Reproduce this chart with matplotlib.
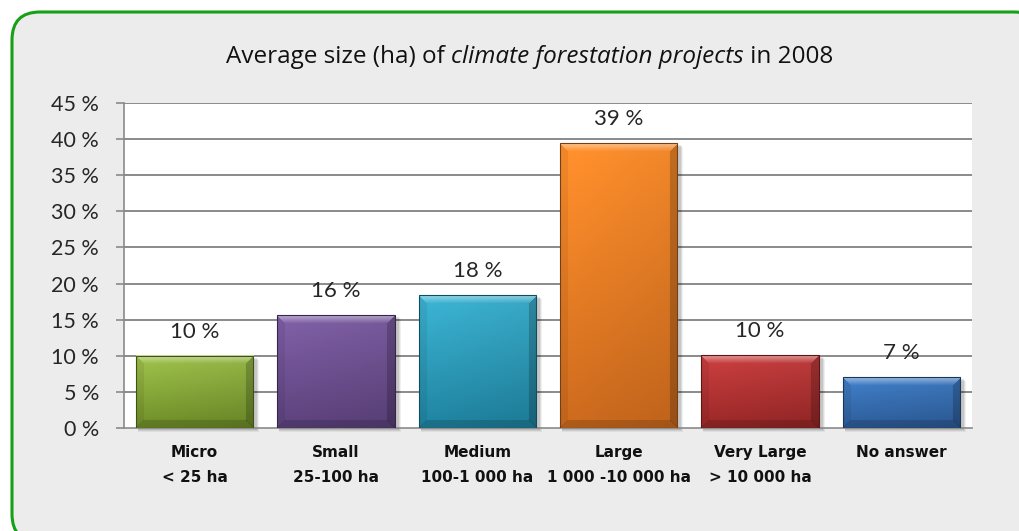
import numpy as np
import matplotlib.pyplot as plt
from matplotlib.patches import FancyBboxPatch, Rectangle
from matplotlib.colors import to_rgb

categories = [
    "Micro\n< 25 ha",
    "Small\n25-100 ha",
    "Medium\n100-1 000 ha",
    "Large\n1 000 -10 000 ha",
    "Very Large\n> 10 000 ha",
    "No answer",
]
shares = [10.0, 15.6, 18.4, 39.4, 10.1, 7.0]
y_ticks = [0, 5, 10, 15, 20, 25, 30, 35, 40, 45]
tick_labels = [f"{t} %" for t in y_ticks]

# (top colour, bottom colour) for each bar
bar_colors = [
    ("#9bbd4a", "#6b8a27"),
    ("#7d5ea3", "#5a4079"),
    ("#3bb0cf", "#1e7f9b"),
    ("#fb8d2b", "#c6671d"),
    ("#c63e3e", "#962626"),
    ("#3f7cc4", "#2c5a95"),
]

title_parts = [
    ("Average size (ha) of ", "normal"),
    ("climate forestation projects", "italic"),
    (" in 2008", "normal"),
]

W, H = 1020, 531
fig = plt.figure(figsize=(W / 100, H / 100), dpi=100)
fig.patch.set_facecolor("white")

# rounded frame behind everything
bg = fig.add_axes([0, 0, 1, 1], zorder=0)
bg.set_xlim(0, W)
bg.set_ylim(H, 0)
bg.axis("off")
bg.add_patch(FancyBboxPatch((12, 12), 1030, 530,
                            boxstyle="round,pad=0,rounding_size=28",
                            facecolor="#ececec", edgecolor="#17a017", linewidth=2.2))

ax = fig.add_axes([124 / W, 1 - 428 / H, 848 / W, 325 / H], zorder=1)
ax.set_facecolor("white")
ax.set_xlim(-0.5, len(categories) - 0.5)
ax.set_ylim(0, 45)

for y in y_ticks[1:]:
    ax.axhline(y, color="#8a8a8a", linewidth=1.4, zorder=1)
for side in ["top", "right"]:
    ax.spines[side].set_visible(False)
for side in ["left", "bottom"]:
    ax.spines[side].set_color("#8a8a8a")
    ax.spines[side].set_linewidth(1.2)

ax.set_yticks(y_ticks)
ax.set_yticklabels(tick_labels, fontfamily="Lato", fontsize=15.5, color="#262626")
ax.tick_params(axis="y", length=6, width=1.2, color="#8a8a8a", pad=12)

ax.set_xticks(range(len(categories)))
ax.set_xticklabels(categories, fontfamily="DejaVu Sans", fontweight="bold",
                   fontsize=11, color="#111111", linespacing=1.85)
ax.tick_params(axis="x", length=0, pad=12)

px_x = 848 / len(categories)   # pixels per category
px_y = 325 / 45                # pixels per percent
bar_w = 0.83
bevel = 8


def bar_image(top, bottom, wpx, hpx):
    top = np.array(to_rgb(top))
    bottom = np.array(to_rgb(bottom))
    yy, xx = np.mgrid[0:hpx, 0:wpx].astype(float)
    t = (yy / max(hpx - 1, 1))[..., None]
    img = top * (1 - t) + bottom * t
    # slight left-to-right shading
    img = img * (1.04 - 0.08 * (xx / max(wpx - 1, 1)))[..., None]
    d_top, d_bot = yy, hpx - 1 - yy
    d_left, d_right = xx, wpx - 1 - xx
    dmin = np.minimum.reduce([d_top, d_bot, d_left, d_right])
    light = np.ones_like(img)
    img = np.where(((d_top == dmin) & (d_top < bevel))[..., None],
                   img * 0.55 + light * 0.45 * (1 - d_top / bevel)[..., None] + img * 0.45 * (d_top / bevel)[..., None],
                   img)
    img = np.where(((d_bot == dmin) & (d_bot < bevel) & (d_top != dmin))[..., None], img * 0.85, img)
    img = np.where(((d_right == dmin) & (d_right < bevel) & (d_top != dmin))[..., None], img * 0.8, img)
    img = np.where(((d_left == dmin) & (d_left < bevel) & (d_top != dmin))[..., None], img * 0.93, img)
    return np.clip(img, 0, 1)


for i, (v, (c_top, c_bot)) in enumerate(zip(shares, bar_colors)):
    x0, x1 = i - bar_w / 2, i + bar_w / 2
    wpx = int(round(bar_w * px_x))
    hpx = max(int(round(v * px_y)), 2)
    # soft shadow
    for k, a in [(4, 0.06), (3, 0.08), (2, 0.10)]:
        ax.add_patch(Rectangle((x0 + 2 / px_x, -k / px_y), bar_w + k / px_x, v,
                               facecolor="black", alpha=a, edgecolor="none",
                               zorder=2, clip_on=False))
    ax.imshow(bar_image(c_top, c_bot, wpx, hpx), extent=(x0, x1, 0, v),
              aspect="auto", interpolation="bilinear", zorder=3)
    ax.add_patch(Rectangle((x0, 0), bar_w, v, facecolor="none",
                           edgecolor=np.array(to_rgb(c_bot)) * 0.6,
                           linewidth=0.8, zorder=4))
    ax.annotate(f"{v:.0f} %", (i, v), xytext=(0, 13), textcoords="offset points",
                ha="center", va="baseline", fontfamily="Lato", fontsize=16,
                color="#262626", zorder=5)

ax.set_xlim(-0.5, len(categories) - 0.5)
ax.set_ylim(0, 45)

# title with an italic middle part, laid out piece by piece
renderer = fig.canvas.get_renderer()
pieces = []
for text, style in title_parts:
    pieces.append(fig.text(0, 1 - 63 / H, text, fontfamily="Open Sans", fontsize=17.5,
                           style=style, color="#111111", va="baseline"))
widths = [p.get_window_extent(renderer).width for p in pieces]
x = 530 - sum(widths) / 2
for p, w in zip(pieces, widths):
    p.set_x(x / W)
    x += w

fig.savefig("out.png", dpi=100)
